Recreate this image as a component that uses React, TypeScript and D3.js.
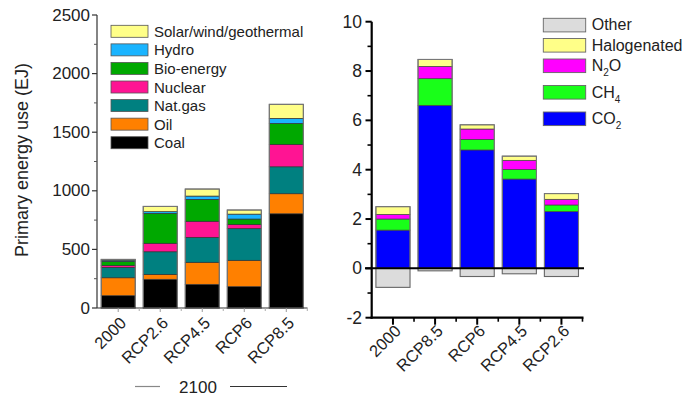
import React from "react";
import * as d3 from "d3";

// Left panel: primary energy use by source (EJ)
const energyCategories = ["2000", "RCP2.6", "RCP4.5", "RCP6", "RCP8.5"];
const energySources = ["Coal", "Oil", "Nat.gas", "Nuclear", "Bio-energy", "Hydro", "Solar/wind/geothermal"];
const coal = [105, 245, 202, 182, 804];
const oil = [153, 42, 188, 225, 171];
const natGas = [89, 193, 213, 270, 230];
const nuclear = [15, 72, 137, 35, 191];
const bioEnergy = [36, 256, 187, 47, 179];
const hydro = [10, 14, 28, 42, 43];
const solarWindGeo = [7, 45, 60, 35, 120];
const energyColors = ["#000000", "#ff8000", "#008080", "#ff1493", "#00a800", "#1ab4ff", "#ffff88"];
const energyTicks = [0, 500, 1000, 1500, 2000, 2500];

// Right panel: radiative forcing by agent (W/m2)
const forcingCategories = ["2000", "RCP8.5", "RCP6", "RCP4.5", "RCP2.6"];
const co2 = [1.55, 6.61, 4.8, 3.62, 2.3];
const ch4 = [0.45, 1.08, 0.43, 0.39, 0.27];
const n2o = [0.19, 0.5, 0.42, 0.37, 0.23];
const halogenated = [0.31, 0.28, 0.17, 0.17, 0.23];
const other = [-0.77, -0.1, -0.33, -0.22, -0.33];
const forcingColors = { co2: "#0000ff", ch4: "#19ff19", n2o: "#ff00ff", halo: "#ffff88", other: "#dcdcdc" };
const forcingTicks = [-2, 0, 2, 4, 6, 8, 10];

const FONT = "'Liberation Sans', Arial, Helvetica, sans-serif";

export default function App() {
  // ---------- left panel scales ----------
  const xL = d3.scaleBand<string>().domain(energyCategories).range([97, 307.5]).paddingInner(0.19).paddingOuter(0.1);
  const yL = d3.scaleLinear().domain([0, 2500]).range([308, 15]);
  const energyRows = energyCategories.map((c, i) => ({
    cat: c,
    Coal: coal[i],
    Oil: oil[i],
    "Nat.gas": natGas[i],
    Nuclear: nuclear[i],
    "Bio-energy": bioEnergy[i],
    Hydro: hydro[i],
    "Solar/wind/geothermal": solarWindGeo[i],
  }));
  const energyStack = d3.stack<any>().keys(energySources)(energyRows);
  const energyMinor = d3.range(250, 2500, 500);

  // ---------- right panel scales ----------
  const xR = d3.scaleBand<string>().domain(forcingCategories).range([371.7, 582.7]).paddingInner(0.19).paddingOuter(0.1);
  const yR = d3.scaleLinear().domain([-2, 10]).range([317.7, 21.7]);
  const forcingKeys = ["co2", "ch4", "n2o", "halo"];
  const forcingRows = forcingCategories.map((c, i) => ({
    cat: c,
    co2: co2[i],
    ch4: ch4[i],
    n2o: n2o[i],
    halo: halogenated[i],
  }));
  const forcingStack = d3.stack<any>().keys(forcingKeys)(forcingRows);
  const forcingMinor = d3.range(-1, 10, 2);

  const stepL = xL.step();
  const gapL = stepL - xL.bandwidth();
  const stepR = xR.step();
  const gapR = stepR - xR.bandwidth();

  const leftLegend = [
    { label: "Solar/wind/geothermal", color: energyColors[6] },
    { label: "Hydro", color: energyColors[5] },
    { label: "Bio-energy", color: energyColors[4] },
    { label: "Nuclear", color: energyColors[3] },
    { label: "Nat.gas", color: energyColors[2] },
    { label: "Oil", color: energyColors[1] },
    { label: "Coal", color: energyColors[0] },
  ];

  const rightLegend = [
    { key: "other", main: "Other", sub: "", tail: "", y: 18.3 },
    { key: "halo", main: "Halogenated", sub: "", tail: "", y: 38.5 },
    { key: "n2o", main: "N", sub: "2", tail: "O", y: 59 },
    { key: "ch4", main: "CH", sub: "4", tail: "", y: 85.5 },
    { key: "co2", main: "CO", sub: "2", tail: "", y: 112 },
  ];

  return (
    <svg width={688} height={398} style={{ position: "absolute", left: 0, top: 0, background: "#fff" }} fontFamily={FONT}>
      {/* ===== Left panel ===== */}
      <text transform="translate(28,160) rotate(-90)" textAnchor="middle" fontSize={18} fill="#222">
        Primary energy use (EJ)
      </text>

      {energyStack.map((layer, li) =>
        layer.map((d, i) => (
          <rect
            key={`e-${li}-${i}`}
            x={xL(energyCategories[i])}
            y={yL(d[1])}
            width={xL.bandwidth()}
            height={yL(d[0]) - yL(d[1])}
            fill={energyColors[li]}
            stroke="#333"
            strokeWidth={0.7}
          />
        ))
      )}
      {energyRows.map((r, i) => {
        const total = energySources.reduce((s, k) => s + (r as any)[k], 0);
        return (
          <rect
            key={`eo-${i}`}
            x={xL(r.cat)}
            y={yL(total)}
            width={xL.bandwidth()}
            height={yL(0) - yL(total)}
            fill="none"
            stroke="#777"
            strokeWidth={1.1}
          />
        );
      })}

      {/* left y axis */}
      <line x1={97} x2={97} y1={yL(2500)} y2={yL(0)} stroke="#333" strokeWidth={1.2} />
      {energyTicks.map((t) => (
        <g key={`lt-${t}`}>
          <line x1={92} x2={97} y1={yL(t)} y2={yL(t)} stroke="#333" strokeWidth={1.2} />
          <text x={90} y={yL(t)} textAnchor="end" dominantBaseline="central" fontSize={17} fill="#222">
            {t}
          </text>
        </g>
      ))}
      {energyMinor.map((t) => (
        <line key={`lm-${t}`} x1={94} x2={97} y1={yL(t)} y2={yL(t)} stroke="#555" strokeWidth={1} />
      ))}

      {/* left x axis */}
      <line x1={97} x2={307.5} y1={yL(0)} y2={yL(0)} stroke="#333" strokeWidth={1.2} />
      {energyCategories.map((c) => {
        const cx = (xL(c) as number) + xL.bandwidth() / 2;
        const bx = (xL(c) as number) + xL.bandwidth() + gapL / 2;
        return (
          <g key={`lx-${c}`}>
            <line x1={cx} x2={cx} y1={308} y2={312} stroke="#999" strokeWidth={1} />
            <line x1={bx} x2={bx} y1={308} y2={311} stroke="#aaa" strokeWidth={1} />
            <text
              transform={`translate(${cx + 9},${324}) rotate(-45)`}
              textAnchor="end"
              fontSize={16.5}
              fill="#222"
            >
              {c}
            </text>
          </g>
        );
      })}

      {/* year marker under scenario bars */}
      <line x1={135} x2={160} y1={386.5} y2={386.5} stroke="#888" strokeWidth={1.2} />
      <text x={198} y={392.5} textAnchor="middle" fontSize={17} fill="#222">
        2100
      </text>
      <line x1={230} x2={287} y1={386.5} y2={386.5} stroke="#333" strokeWidth={1.2} />

      {/* left legend */}
      {leftLegend.map((d, i) => {
        const cy = 31.3 + i * 18.57;
        return (
          <g key={`ll-${d.label}`}>
            <rect x={111} y={cy - 6} width={37} height={12} fill={d.color} stroke="#555" strokeWidth={0.8} />
            <text x={154} y={cy} dominantBaseline="central" fontSize={15} fill="#222">
              {d.label}
            </text>
          </g>
        );
      })}

      {/* ===== Right panel ===== */}
      {forcingStack.map((layer) =>
        layer.map((d, i) => (
          <rect
            key={`f-${layer.key}-${i}`}
            x={xR(forcingCategories[i])}
            y={yR(d[1])}
            width={xR.bandwidth()}
            height={yR(d[0]) - yR(d[1])}
            fill={(forcingColors as any)[layer.key]}
            stroke="#444"
            strokeWidth={0.7}
          />
        ))
      )}
      {forcingRows.map((r, i) => {
        const total = r.co2 + r.ch4 + r.n2o + r.halo;
        return (
          <g key={`fo-${i}`}>
            <rect
              x={xR(r.cat)}
              y={yR(total)}
              width={xR.bandwidth()}
              height={yR(0) - yR(total)}
              fill="none"
              stroke="#777"
              strokeWidth={1.1}
            />
            <rect
              x={xR(r.cat)}
              y={yR(0)}
              width={xR.bandwidth()}
              height={yR(other[i]) - yR(0)}
              fill={forcingColors.other}
              stroke="#666"
              strokeWidth={1.1}
            />
          </g>
        );
      })}

      {/* zero line */}
      <line x1={365} x2={584} y1={yR(0)} y2={yR(0)} stroke="#000" strokeWidth={2} />

      {/* right y axis */}
      <line x1={371.7} x2={371.7} y1={yR(10)} y2={yR(-2) + 1} stroke="#000" strokeWidth={2.2} />
      {forcingTicks.map((t) => (
        <g key={`rt-${t}`}>
          <line x1={365.5} x2={371.7} y1={yR(t)} y2={yR(t)} stroke="#000" strokeWidth={2} />
          <text x={362} y={yR(t)} textAnchor="end" dominantBaseline="central" fontSize={17.5} fill="#222">
            {t}
          </text>
        </g>
      ))}
      {forcingMinor.map((t) => (
        <line key={`rm-${t}`} x1={367.5} x2={371.7} y1={yR(t)} y2={yR(t)} stroke="#000" strokeWidth={1.6} />
      ))}

      {/* right x axis */}
      <line x1={370.6} x2={583.5} y1={yR(-2)} y2={yR(-2)} stroke="#000" strokeWidth={2.2} />
      {forcingCategories.map((c) => {
        const cx = (xR(c) as number) + xR.bandwidth() / 2;
        const bx = (xR(c) as number) + xR.bandwidth() + gapR / 2;
        return (
          <g key={`rx-${c}`}>
            <line x1={cx} x2={cx} y1={yR(-2)} y2={yR(-2) + 7} stroke="#000" strokeWidth={2} />
            <line x1={bx} x2={bx} y1={yR(-2)} y2={yR(-2) + 4} stroke="#000" strokeWidth={1.6} />
            <text
              transform={`translate(${cx + 9},${332}) rotate(-45)`}
              textAnchor="end"
              fontSize={16.5}
              fill="#222"
            >
              {c}
            </text>
          </g>
        );
      })}

      {/* right legend */}
      {rightLegend.map((d) => (
        <g key={`rl-${d.key}`}>
          <rect
            x={543.3}
            y={d.y}
            width={42.4}
            height={13.6}
            fill={(forcingColors as any)[d.key]}
            stroke="#666"
            strokeWidth={0.9}
          />
          <text x={591.7} y={d.y + 12} fontSize={16} fill="#222">
            {d.main}
            {d.sub && (
              <tspan dy={5} fontSize={10}>
                {d.sub}
              </tspan>
            )}
            {d.tail && <tspan dy={-5}>{d.tail}</tspan>}
          </text>
        </g>
      ))}
    </svg>
  );
}
